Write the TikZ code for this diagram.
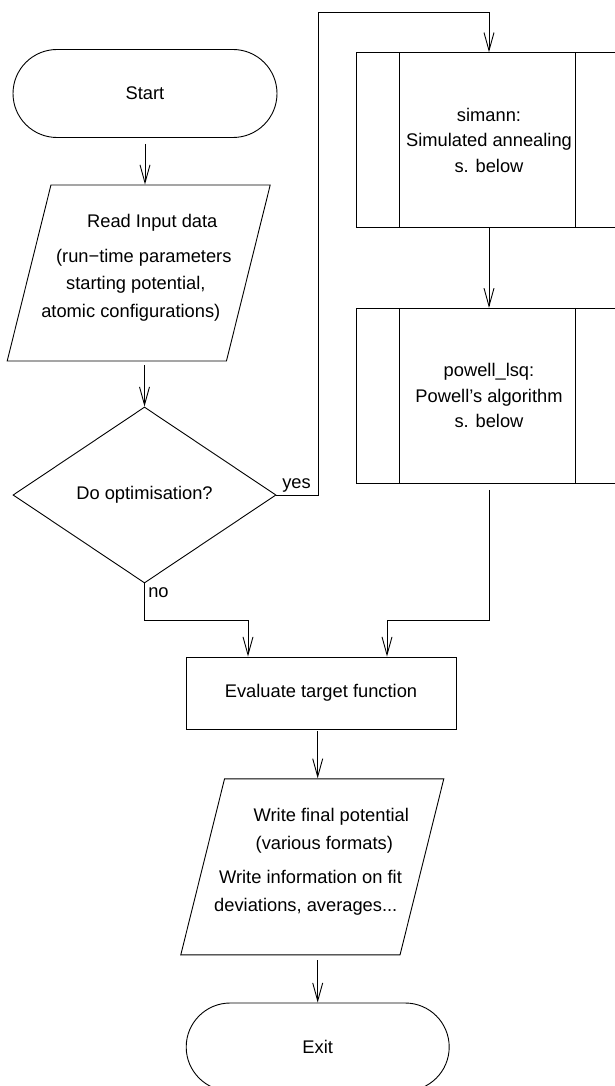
\documentclass[tikz,border=0pt]{standalone}
\usepackage{fontspec}
\setmainfont{Liberation Sans}
\usetikzlibrary{arrows.meta,shapes.geometric,shapes.misc}

\begin{document}
\begin{tikzpicture}[x=1pt, y=-1pt, line width=0.9pt,
    every node/.style={font=\fontsize{18.3pt}{25.5pt}\selectfont},
    flow/.style={-{Straight Barb[length=18pt,width=10pt]}},
    terminal/.style={draw, rounded rectangle, minimum height=88pt, inner sep=0pt},
    io/.style={draw, trapezium, trapezium left angle=76, trapezium right angle=104,
        trapezium stretches=true, minimum width=263pt, minimum height=176pt, inner sep=2pt},
    decision/.style={draw, diamond, minimum width=263pt, minimum height=176pt, inner sep=0pt},
    subprog/.style={draw, rectangle, minimum width=266pt, minimum height=175pt, inner sep=0pt, align=center},
    txt/.style={inner sep=0pt, text height=13pt, text depth=4pt}]

    \useasboundingbox (0,0) rectangle (614,1086);

    % Main column
    \node[terminal, minimum width=264pt] (start) at (145,93.5) {Start};
    \node[io] (read) at (138.7,273) {};
    \node[txt] (read1) at (152.3,222.7) {Read Input data};
    \node[txt] (read2) at (143.8,257.7) {(run−time parameters};
    \node[txt] (read3) at (135.8,285.3) {starting potential,};
    \node[txt] (read4) at (130.8,312.7) {atomic configurations)};
    \node[decision] (opt) at (144.5,495) {Do optimisation?};

    % Optimisation branch
    \node[subprog] (simann) at (489,140.2) {simann:\\Simulated annealing\\s. below};
    \node[subprog] (powell) at (489,395.8) {powell\_lsq:\\Powell's algorithm\\s. below};
    \draw (simann.north west) ++(44,0) -- ++(0,175);
    \draw (simann.north west) ++(219.7,0) -- ++(0,175);
    \draw (powell.north west) ++(44,0) -- ++(0,175);
    \draw (powell.north west) ++(219.7,0) -- ++(0,175);

    % Output part
    \node[draw, rectangle, minimum width=270pt, minimum height=72pt, inner sep=0pt] (eval) at (321,693) {Evaluate target function};
    \node[io] (write) at (312.3,866.8) {};
    \node[txt] (write1) at (331.3,817) {Write final potential};
    \node[txt] (write2) at (324.3,844.7) {(various formats)};
    \node[txt] (write3) at (310.5,879.3) {Write information on fit};
    \node[txt] (write4) at (305.8,907) {deviations, averages...};
    \node[terminal, minimum width=263pt] (exit) at (317.7,1047) {Exit};

    % Connectors
    \coordinate (yesup) at (318,12);
    \coordinate (nodown) at (144.5,620);
    \draw[flow, shorten <=6pt] (start.south) -- (start.south |- read.north);
    \draw[flow, shorten <=4pt] (read.south -| opt.north) -- (opt.north);
    \draw[flow] (opt.east) -| (yesup) -| (simann.north);
    \node[txt] (yeslbl) at (296.5,483.5) {yes};
    \draw[flow] (simann.south) -- (powell.north);
    \draw[flow] (opt.south) -- (nodown) -| ([xshift=-73pt]eval.north);
    \node[txt] (nolbl) at (158.5,593) {no};
    \draw[flow, shorten <=6pt] (powell.south) -- (powell.south |- nodown) -| ([xshift=66pt]eval.north);
    \draw[flow, shorten <=2pt] (eval.south -| exit.north) -- (write.north -| exit.north);
    \draw[flow, shorten <=5pt] (write.south -| exit.north) -- (exit.north);
\end{tikzpicture}
\end{document}
